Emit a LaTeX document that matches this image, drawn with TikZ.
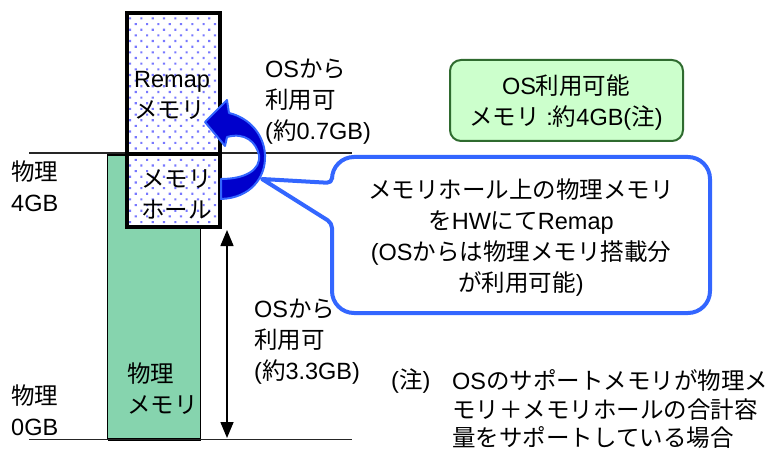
\documentclass[tikz,border=0pt]{standalone}
\usepackage{fontspec}
\setmainfont{Noto Sans CJK JP}
\newfontfamily\arfont{Liberation Sans}
\newcommand\latn[1]{{\arfont #1}}
\usetikzlibrary{arrows.meta,patterns.meta}
\definecolor{memgreen}{HTML}{86D4AE}
\definecolor{boxgreen}{HTML}{CCFFCC}
\definecolor{boxgreenline}{HTML}{2F6B2F}
\definecolor{dotblue}{HTML}{7878FF}
\definecolor{callblue}{HTML}{3366FF}
\definecolor{arrowblue}{HTML}{0000CC}
\begin{document}
\begin{tikzpicture}[x=1pt,y=-1pt,
  txt/.style={font=\fontsize{23.5}{31}\selectfont, inner sep=0pt, align=left, anchor=west},
  ctxt/.style={font=\fontsize{23.5}{31}\selectfont, inner sep=0pt, align=center},
  memline/.style={line width=1.5pt, black!85},
  dotbox/.style={line width=4pt, black, preaction={fill=white},
     pattern={Dots[distance=8pt, angle=45, radius=1.5pt]}, pattern color=dotblue}]
\useasboundingbox (0,0) rectangle (783,454);

% base lines
\coordinate (t0) at (29,153); \coordinate (t1) at (352,153);
\coordinate (b0) at (29,439.5); \coordinate (b1) at (352,439.5);
\draw[memline] (t0) -- (t1);

% physical memory
\draw[line width=1.5pt, fill=memgreen] (107.5,155) rectangle (200.5,439.5);
\draw[line width=3pt] (107.5,439.5) -- (200.5,439.5);
\draw[memline] (b0) -- (b1);

% remap and hole boxes
\draw[dotbox] (126.5,13) rectangle (220,154);
\draw[dotbox] (126.5,154) rectangle (220,227);

% texts in boxes
\node[txt] (remap) at (134,95.5) {\latn{Remap}\\メモリ};
\node[txt] (hole) at (141,194) {メモリ\\ホール};
\node[txt] (phys) at (127,389) {物理\\メモリ};

% left labels
\node[txt] (p4) at (11,186.5) {物理\\\latn{4GB}};
\node[txt] (p0) at (11,410) {物理\\\latn{0GB}};

% double arrow
\coordinate (da0) at (227,230);
\coordinate (da1) at (227,438);
\draw[line width=1.5pt, {Triangle[width=13pt,length=16pt]}-{Triangle[width=13pt,length=16pt]}] (da0) -- (da1);
\node[txt] (os33) at (254,341.5) {\latn{OS}から\\利用可\\\latn{(}約\latn{3.3GB)}};

% upper label
\node[txt] (os07) at (265,102) {\latn{OS}から\\利用可\\\latn{(}約\latn{0.7GB)}};

% curved remap arrow
\draw[fill=arrowblue, draw=callblue, line width=2pt, line join=round]
  (221,199) .. controls (250,198) and (266,178) .. (265,155)
  .. controls (264,135) and (250,118) .. (229,113)
  -- (227,100) -- (205,122) -- (225,146) -- (227,137)
  .. controls (245,132) and (256,142) .. (259,155)
  .. controls (261,170) and (245,179) .. (221,179) -- cycle;

% callout
\coordinate (tip) at (262,179);
\draw[line width=4pt, draw=callblue, fill=white, line join=round]
  (332,250) [rounded corners=22pt] -- (332,313) -- (710,313) -- (710,157) -- (332,157)
  [rounded corners=5pt] -- (332,183) [sharp corners] -- (tip) [rounded corners=5pt] -- (332,223) -- cycle;
\node[ctxt] (calltext) at (521,238) {メモリホール上の物理メモリ\\を\latn{HW}にて\latn{Remap}\\\latn{(OS}からは物理メモリ搭載分\\が利用可能\latn{)}};

% green box
\draw[line width=2pt, draw=boxgreenline, fill=boxgreen, rounded corners=11pt] (450,60) rectangle (683,141);
\node[ctxt] (avail) at (566,102.5) {\latn{OS}利用可能\\メモリ\latn{ :}約\latn{4GB(}注\latn{)}};

% note
\node[txt] (notemark) at (391,381) {\latn{(}注\latn{)}};
\node[txt, font=\fontsize{23.5}{28.5}\selectfont] (note) at (452,409.5) {\latn{OS}のサポートメモリが物理メ\\モリ＋メモリホールの合計容\\量をサポートしている場合};
\end{tikzpicture}
\end{document}
